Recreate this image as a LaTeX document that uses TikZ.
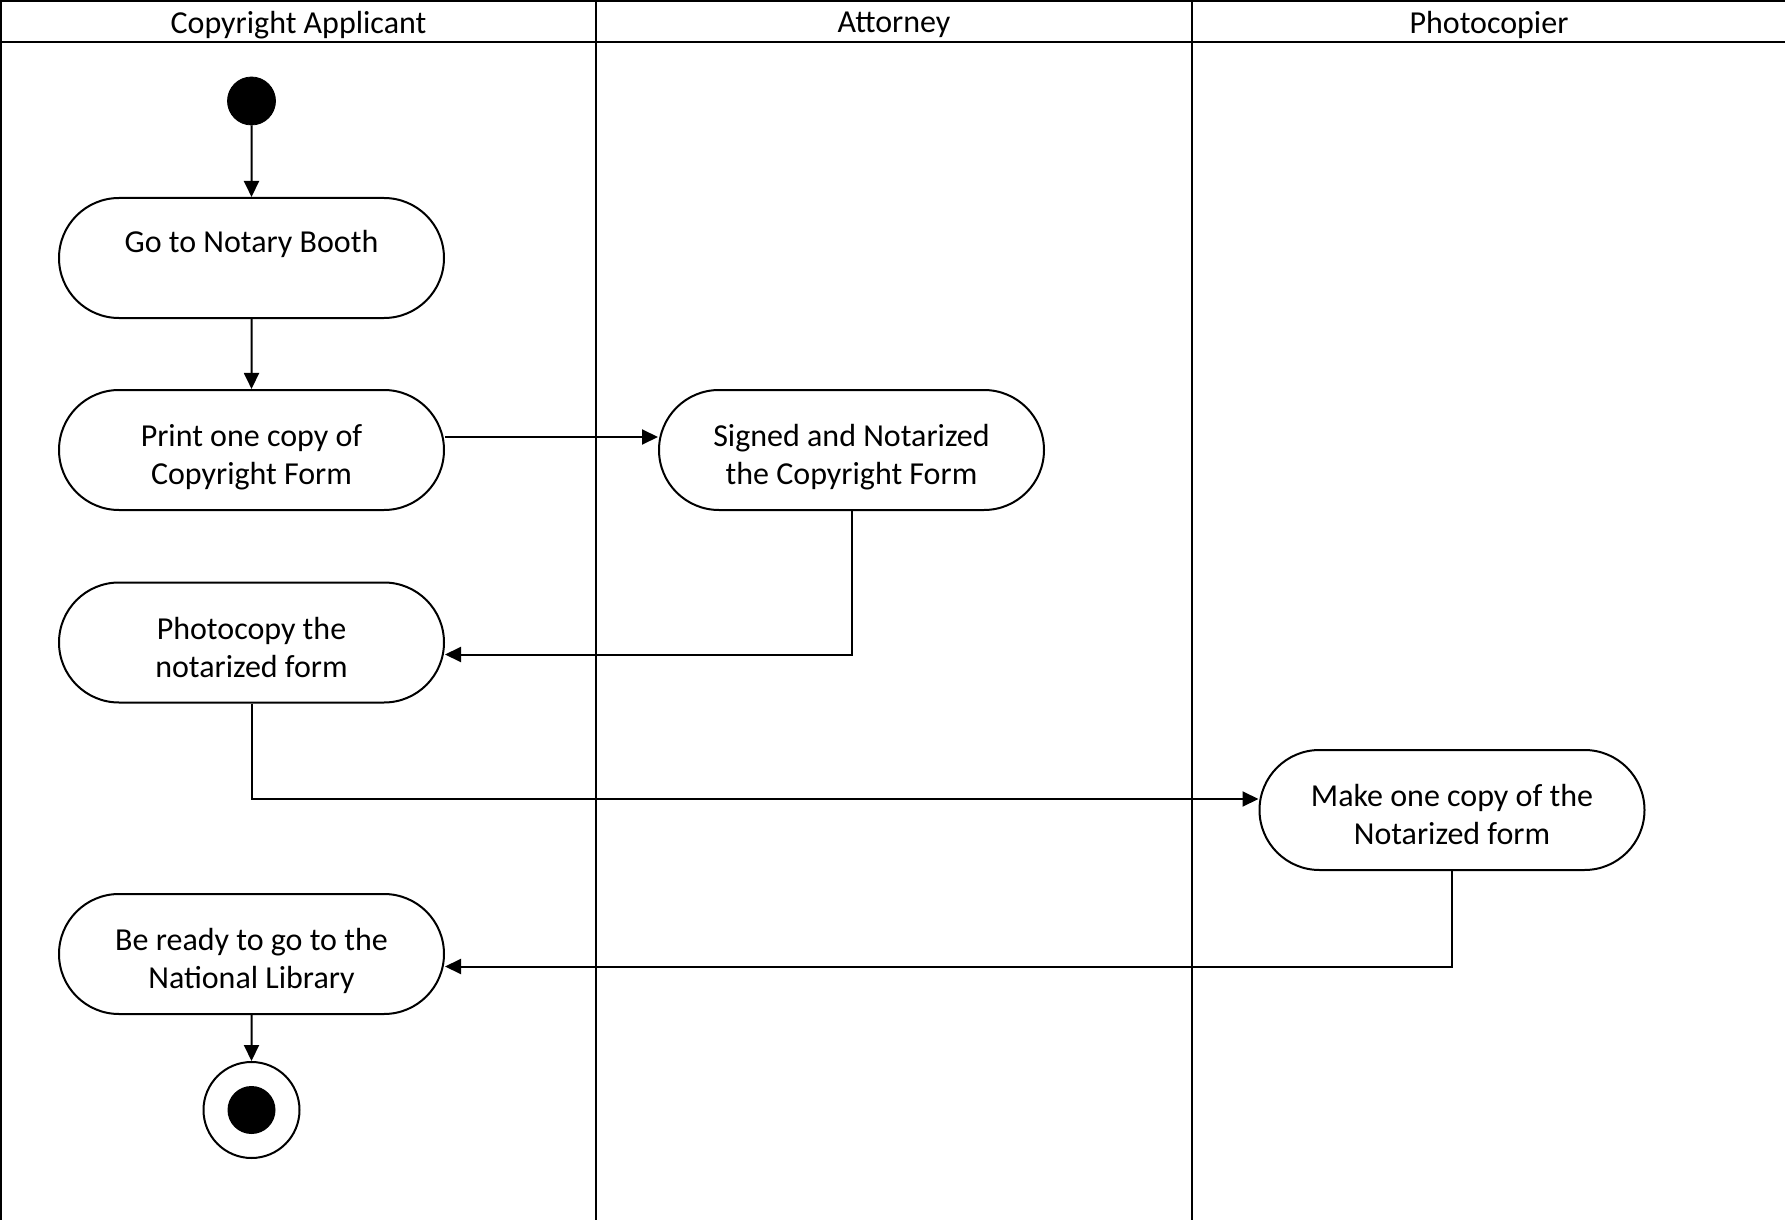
\documentclass[tikz,border=0pt]{standalone}
\usepackage{fontspec}
\setmainfont{Carlito}
\usepackage{tikz}
\usetikzlibrary{
	arrows.meta,shapes.misc,positioning
}

\begin{document}
\begin{tikzpicture}[x=0.5pt,y=-0.5pt,
		activity/.style={draw,rounded rectangle,line width=1pt,minimum width=192.5pt,minimum height=60pt,inner sep=0pt,align=center,text height=35pt,text depth=0.5pt,font=\fontsize{16}{18.8}\selectfont},
		oneline/.style={text height=12pt,text depth=17pt},
		lanehead/.style={font=\fontsize{16}{18.8}\selectfont},
		lane/.style={line width=1pt},
		flow/.style={line width=1pt,-{Triangle[length=8pt,width=7.5pt]}}]
		\useasboundingbox (0,0) rectangle (1785,1220);
		% swimlanes
		\draw[lane] (0,1) -- (1785,1) (0,42) -- (1785,42);
		\draw[lane] (1,0) -- (1,1220) (596,0) -- (596,1220) (1192,0) -- (1192,1220);
		\node[lanehead] (H1) at (298.5,25) {Copyright Applicant};
		\node[lanehead] (H2) at (894,25) {Attorney};
		\node[lanehead] (H3) at (1489,25) {Photocopier};
		%
		\node[draw,circle,fill,minimum size=24pt,inner sep=0pt] (Start) at (251.5,101) {};
		\node[activity,oneline] (Booth) at (251.5,258) {Go to Notary Booth};
		\node[activity] (Print) at (251.5,450) {Print one copy of\\Copyright Form};
		\node[activity] (Sign) at (851.5,450) {Signed and Notarized\\the Copyright Form};
		\node[activity] (Photo) at (251.5,642.5) {Photocopy the\\notarized form};
		\node[activity] (Copy) at (1452,810) {Make one copy of the\\Notarized form};
		\node[activity] (Ready) at (251.5,954) {Be ready to go to the\\National Library};
		\node[draw,circle,line width=1pt,minimum size=48pt,inner sep=0pt] (End) at (251.5,1110) {};
		\node[circle,fill,minimum size=24pt,inner sep=0pt] (EndDot) at (End) {};
		%
		\path[flow]
		% straight arrows
		(Start) edge (Booth)
		(Booth) edge (Print)
		([yshift=6.5pt]Print.east) edge ([yshift=6.5pt]Sign.west)
		(Ready) edge (End);
		% elbow arrows
		\draw[flow] (Sign.south) |- ([yshift=-6pt]Photo.east);
		\draw[flow] (Photo.south) |- ([yshift=5.5pt]Copy.west);
		\draw[flow] (Copy.south) |- ([yshift=-6.25pt]Ready.east);
\end{tikzpicture}
\end{document}
